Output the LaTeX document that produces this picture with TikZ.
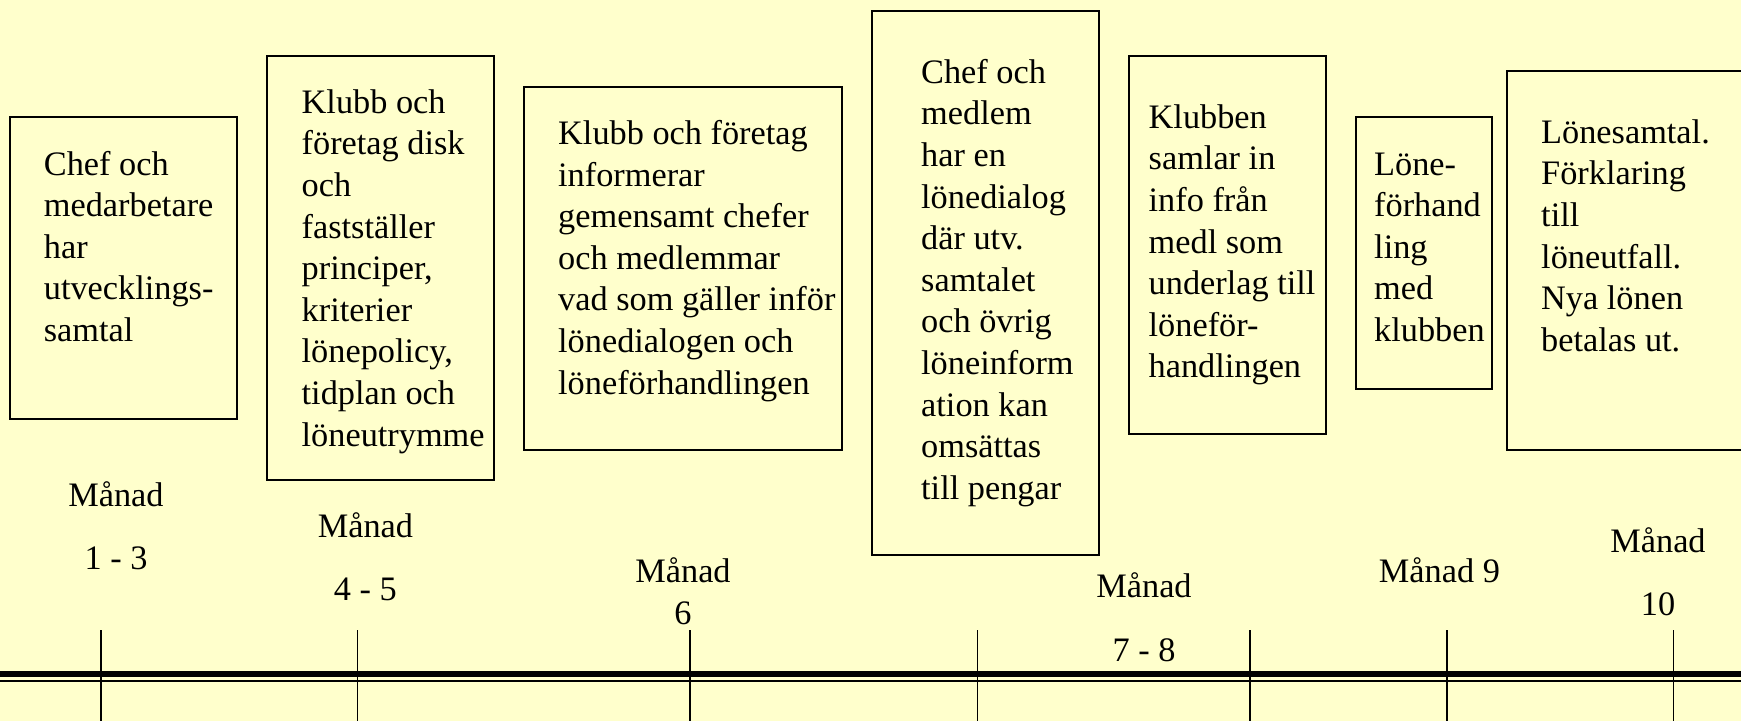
\documentclass[tikz,border=0pt]{standalone}
\usepackage{fontspec}
\setmainfont{Liberation Serif}
\definecolor{paper}{HTML}{FFFFCC}
% multi-line text whose baseline is that of its first line
\newcommand\linestack[2][l]{\begin{tabular}[t]{@{}#1@{}}#2\end{tabular}}
\tikzset{
  stepbox/.style={draw=black, line width=2bp, inner sep=0pt, outer sep=0pt,
    anchor=north west, rectangle},
  boxtext/.style={inner sep=0pt, anchor=base west,
    font=\fontsize{34.3bp}{41.6bp}\selectfont},
  monthlabel/.style={inner sep=0pt, anchor=base,
    font=\fontsize{34.3bp}{41.6bp}\selectfont},
  tick/.style={draw=black, line width=1.7bp},
}
\begin{document}
\begin{tikzpicture}[x=1bp, y=-1bp]
  \fill[paper] (0,0) rectangle (1741,721);
  \useasboundingbox (0,0) rectangle (1741,721);
  \clip (0,0) rectangle (1741,721);

  % activity boxes
  \node[stepbox, minimum width=226.7bp, minimum height=302bp]   (b1) at (10,117) {};
  \node[stepbox, minimum width=227.7bp, minimum height=424bp]   (b2) at (266.5,56) {};
  \node[stepbox, minimum width=318bp,   minimum height=363.3bp] (b3) at (524,86.7) {};
  \node[stepbox, minimum width=227bp,   minimum height=544.3bp] (b4) at (872,11) {};
  \node[stepbox, minimum width=196.9bp, minimum height=377.8bp] (b5) at (1128.8,56) {};
  \node[stepbox, minimum width=135.5bp, minimum height=272bp]   (b6) at (1356,116.7) {};
  \node[stepbox, minimum width=293bp,   minimum height=378.7bp] (b7) at (1507,71.3) {};

  % box texts
  \node[boxtext] (t1) at (43.7,175) {\linestack{Chef och\\medarbetare\\har\\utvecklings-\\samtal}};
  \node[boxtext] (t2) at (301.5,113.3) {\linestack{Klubb och\\företag disk\\och\\fastställer\\principer,\\kriterier\\lönepolicy,\\tidplan och\\löneutrymme}};
  \node[boxtext] (t3) at (558,144.5) {\linestack{Klubb och företag\\informerar\\gemensamt chefer\\och medlemmar\\vad som gäller inför\\lönedialogen och\\löneförhandlingen}};
  \node[boxtext] (t4) at (921,83.2) {\linestack{Chef och\\medlem\\har en\\lönedialog\\där utv.\\samtalet\\och övrig\\löneinform\\ation kan\\omsättas\\till pengar}};
  \node[boxtext] (t5) at (1148.5,128.3) {\linestack{Klubben\\samlar in\\info från\\medl som\\underlag till\\löneför-\\handlingen}};
  \node[boxtext] (t6) at (1374,175) {\linestack{Löne-\\förhand\\ling\\med\\klubben}};
  \node[boxtext] (t7) at (1541,143.3) {\linestack{Lönesamtal.\\Förklaring\\till\\löneutfall.\\Nya lönen\\betalas ut.}};

  % month labels
  \node[monthlabel] (m1) at (116,506.7)   {\linestack[c]{Månad\\[21bp]1 - 3}};
  \node[monthlabel] (m2) at (365.4,537.7) {\linestack[c]{Månad\\[21.4bp]4 - 5}};
  \node[monthlabel] (m3) at (683,582.7)   {\linestack[c]{Månad\\6}};
  \node[monthlabel] (m4) at (1144,597.7)  {\linestack[c]{Månad\\[21.7bp]7 - 8}};
  \node[monthlabel] (m5) at (1439.4,582.7) {Månad 9};
  \node[monthlabel] (m6) at (1658,552.7)  {\linestack[c]{Månad\\[21bp]10}};

  % time axis: thick rule with a thin rule under it, and the month ticks
  \draw[line width=6.5bp] (0,674) -- (1741,674);
  \draw[line width=2bp] (0,681) -- (1741,681);
  \foreach \x in {100.7,357.4,690.3,977.5,1250,1446.7,1673.6}
    \draw[tick] (\x,630) -- (\x,721);
\end{tikzpicture}
\end{document}
